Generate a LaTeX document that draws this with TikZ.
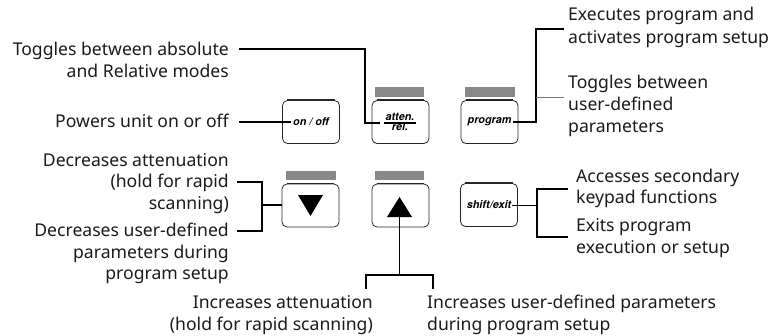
\documentclass[tikz,border=0pt]{standalone}
\usepackage{fontspec}
\setmainfont{Noto Sans}
\newfontfamily\keyfont{TeX Gyre Heros}
\usetikzlibrary{calc}
\newcommand{\lblfs}{\fontsize{17.6}{22}\selectfont}
\newcommand{\keyfs}{\keyfont\bfseries\itshape\fontsize{10.8}{12}\selectfont}
\definecolor{bargray}{HTML}{888888}
\definecolor{txt}{HTML}{1A1A1A}
\begin{document}
\begin{tikzpicture}[x=1pt,y=-1pt,
  lr/.style={inner sep=0, anchor=base east, font=\lblfs, text=txt},
  ll/.style={inner sep=0, anchor=base west, font=\lblfs, text=txt},
  key/.style={draw=black!85, line width=0.8pt, rounded corners=5pt,
    minimum width=57pt, minimum height=43pt, inner sep=0, font=\keyfs},
  keytop/.style={line width=1.6pt, draw=black!85},
  bar/.style={fill=bargray, draw=none},
  conn/.style={line width=1.8pt},
  thinconn/.style={line width=0.9pt},
  grayconn/.style={line width=0.9pt, draw=black!55}]
\useasboundingbox (0,0) rectangle (777,335);

% ---------- keys ----------
\node[key] (onoff) at (311,122) {on / off};
\node[key] (atten) at (400.5,122) {};
\node[key] (prog) at (489.5,122) {program};
\node[key] (down) at (310.5,205.5) {};
\node[key] (up) at (400.5,205.5) {};
\node[key] (shift) at (489,205) {shift/exit};
\foreach \k in {onoff,atten,prog,down,up,shift}
  \draw[keytop] ([xshift=5pt]\k.north west) -- ([xshift=-5pt]\k.north east);

% gray bars
\fill[bar] (375,87) rectangle (424,97);
\fill[bar] (465,87) rectangle (515,97);
\fill[bar] (286,171) rectangle (336,180);
\fill[bar] (375,171) rectangle (424,180);

% atten/rel label
\node[inner sep=0, anchor=base, font=\keyfs] (attenT) at (400,120.5) {atten.};
\node[inner sep=0, anchor=base, font=\keyfs] (relT) at (400,130) {rel.};
\draw[line width=1.1pt] (384,123) -- (416,123);

% triangles
\fill (298,195) -- (323,195) -- (310.5,216) -- cycle;
\fill (387,217) -- (412,217) -- (399.5,197) -- cycle;

% ---------- labels: left ----------
\node[lr] (tA1) at (229,55) {Toggles between absolute};
\node[lr] (tA2) at (229,77) {and Relative modes};
\node[lr] (tP)  at (229,127) {Powers unit on or off};
\node[lr] (tD1) at (229,166) {Decreases attenuation};
\node[lr] (tD2) at (229,187) {(hold for rapid};
\node[lr] (tD3) at (229,209) {scanning)};
\node[lr] (tD4) at (229,236) {Decreases user-defined};
\node[lr] (tD5) at (229,258) {parameters during};
\node[lr] (tD6) at (229,279) {program setup};

% ---------- labels: bottom ----------
\node[lr] (tI1) at (373,308) {Increases attenuation};
\node[lr] (tI2) at (373,330) {(hold for rapid scanning)};
\node[ll] (tU1) at (427,308) {Increases user-defined parameters};
\node[ll] (tU2) at (427,330) {during program setup};

% ---------- labels: right ----------
\node[ll] (tE1) at (568,20) {Executes program and};
\node[ll] (tE2) at (568,43) {activates program setup};
\node[ll] (tT1) at (568,88) {Toggles between};
\node[ll] (tT2) at (568,110) {user-defined};
\node[ll] (tT3) at (568,132) {parameters};
\node[ll] (tS1) at (576,182) {Accesses secondary};
\node[ll] (tS2) at (576,203) {keypad functions};
\node[ll] (tX1) at (576,231) {Exits program};
\node[ll] (tX2) at (576,253) {execution or setup};

% ---------- connectors ----------
\coordinate (cA) at (239,49);
\coordinate (cAin) at (380,123);
\draw[conn] (cA) -- (365,49) -- (365,123) -- (cAin);

\coordinate (cP) at (239,122);
\coordinate (cPin) at (291,122);
\draw[conn] (cP) -- (cPin);

\coordinate (cGin) at (513,122);
\coordinate (cE) at (564,29);
\coordinate (cT) at (564,97);
\draw[conn] (cGin) -- (536,122) -- (536,29) -- (cE);
\draw[grayconn] (536,97) -- (cT);

\coordinate (cD1) at (237,182);
\coordinate (cD2) at (237,231);
\draw[conn] (cD1) -- (262,182) -- (262,231) -- (cD2);
\draw[conn] (262,205) -- (down.west |- 0,205);

\coordinate (cUt) at (399.5,217);
\coordinate (cI) at (366,289);
\coordinate (cU) at (433,289);
\draw[conn] (cUt) -- (399.5,275);
\draw[conn] (cI) -- (366,275) -- (433,275) -- (cU);

\coordinate (cSin) at (512,205);
\coordinate (cS) at (568,189);
\coordinate (cX) at (568,237);
\draw[thinconn] (cSin) -- (537,205);
\draw[conn] (cS) -- (537,189) -- (537,237) -- (cX);
\end{tikzpicture}
\end{document}
